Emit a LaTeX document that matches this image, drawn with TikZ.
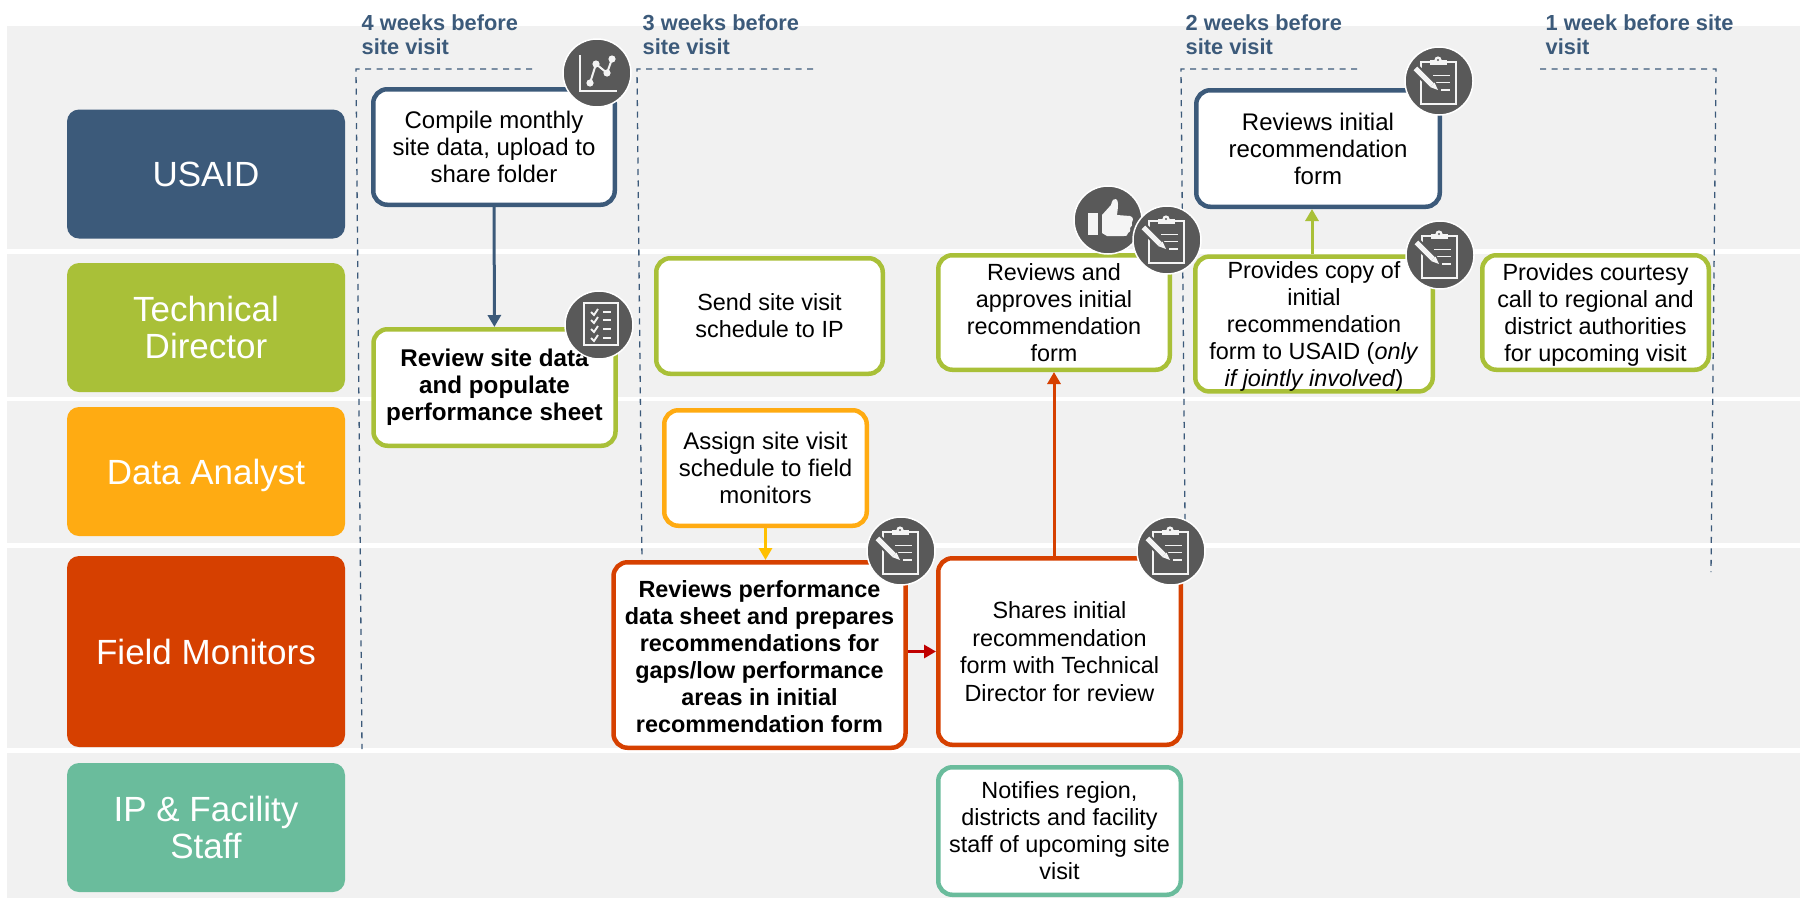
\documentclass[tikz,border=0pt]{standalone}
\usepackage{fontspec}
\setmainfont{Liberation Sans}
\usetikzlibrary{arrows.meta,calc}
\definecolor{cblue}{HTML}{3C5A7A}
\definecolor{cgreen}{HTML}{A9C038}
\definecolor{corange}{HTML}{FFAB12}
\definecolor{cred}{HTML}{D64000}
\definecolor{cteal}{HTML}{6ABC9C}
\definecolor{cband}{HTML}{F1F1F1}
\definecolor{cicon}{HTML}{595959}
\definecolor{cglyph}{HTML}{F4F4F4}
\definecolor{cyell}{HTML}{FFC000}
\definecolor{cdeep}{HTML}{C00000}
\newcommand{\toptall}[1]{\rule{0pt}{#1pt}}
\tikzset{
  lane/.style={fill=#1,rounded corners=12pt,text=white,align=center,inner sep=0pt,minimum width=278pt,
     font=\fontsize{35}{37.5}\selectfont},
  taskbox/.style={draw=#1,line width=4.5pt,fill=white,rounded corners=14pt,align=center,inner sep=0pt,
     font=\fontsize{23.4}{27}\selectfont},
  bigtext/.style={font=\fontsize{24}{27}\selectfont},
  opentext/.style={font=\fontsize{23.4}{27.7}\selectfont},
  bold/.style={font=\fontsize{23.4}{27}\selectfont\bfseries},
  bigbold/.style={font=\fontsize{24.2}{27}\selectfont\bfseries},
  period/.style={text=cblue,anchor=north west,align=left,inner sep=0pt,font=\fontsize{21.8}{24}\selectfont\bfseries},
  limit/.style={draw=cblue,line width=1.3pt,dash pattern=on 6pt off 5.5pt},
  link/.style={line width=3pt,-{Triangle[width=13pt,length=12pt]}},
  badge/.style={circle,fill=cicon,draw=white,line width=1.5pt,minimum size=68pt,inner sep=0pt},
  gl/.style={draw=cglyph,line width=2.4pt},
}
\newcommand{\clipicon}[3]{%
  \node[badge] (#1) at (#2,#3) {};
  \begin{scope}[shift={(#2,#3)}]
    \draw[gl,line width=1.9pt] (-18,-19) rectangle (17,23);
    \fill[cglyph] (-9,-21) rectangle (8,-16);
    \fill[cglyph] (-1,-21) circle (3.6);
    \fill[cicon] (-1,-21) circle (1.2);
    \draw[gl,line width=1.7pt] (-6,-5.5) -- (11,-5.5) (-6,1.5) -- (11,1.5) (2,9) -- (11,9);
    \draw[cicon,line width=9.5pt] (-25,-14) -- (-6,5);
    \draw[cglyph,line width=5pt] (-24,-13) -- (-7,4);
    \fill[cglyph] (-9,6) -- (-4.5,1.5) -- (-1,9) -- cycle;
    \draw[cicon,line width=1pt] (-21,-16) -- (-26,-11);
  \end{scope}}
\newcommand{\charticon}[3]{%
  \node[badge] (#1) at (#2,#3) {};
  \begin{scope}[shift={(#2,#3)}]
    \draw[gl,line width=2.2pt] (-17,-18) -- (-17,18) -- (20,18);
    \draw[gl,line width=2pt] (-7,10) -- (-1,-9) -- (10,0) -- (15,-14);
    \foreach \p in {(-7,10),(-1,-9),(10,0),(15,-14)} \fill[cglyph] \p circle (3.6);
  \end{scope}}
\newcommand{\listicon}[3]{%
  \node[badge] (#1) at (#2,#3) {};
  \begin{scope}[shift={(#2,#3)}]
    \draw[gl,line width=2.4pt] (-15,-22) rectangle (19,20);
    \foreach \yy in {-13,-5,4,13} {
      \draw[gl,line width=1.9pt] (-8,\yy) -- (-5,{\yy+3}) -- (-1,{\yy-3});
      \draw[gl,line width=1.9pt] (4,\yy) -- (12,\yy);
    }
  \end{scope}}
\newcommand{\thumbicon}[3]{%
  \node[badge] (#1) at (#2,#3) {};
  \begin{scope}[shift={(#2,#3)}]
    \fill[cglyph] (-20,-7) rectangle (-10,15);
    \fill[cglyph] (-6,-5) -- (3,-15) .. controls (4,-20) and (6,-22) .. (8,-21)
      .. controls (11,-20) and (10,-12) .. (9,-5) -- (22,-4) .. controls (26,-3) and (25,1) .. (24,2)
      .. controls (25,5) and (23,7) .. (22,8) .. controls (23,11) and (21,13) .. (20,13)
      .. controls (20,16) and (18,16) .. (16,16) -- (-1,16) -- (-6,13) -- cycle;
  \end{scope}}
\begin{document}
\begin{tikzpicture}[x=1pt,y=-1pt]
\useasboundingbox (0,0) rectangle (1800,898);
% bands
\fill[cband] (7,26) rectangle (1800,249);
\fill[cband] (7,254) rectangle (1800,397);
\fill[cband] (7,401) rectangle (1800,543);
\fill[cband] (7,548) rectangle (1800,748);
\fill[cband] (7,753) rectangle (1800,898);
% lanes
\node[lane=cblue,minimum height=129pt] (usaid) at (206,174) {USAID};
\node[lane=cgreen,minimum height=129pt] (tech) at (206,327.5) {Technical\\Director};
\node[lane=corange,minimum height=129pt] (data) at (206,471.5) {\toptall{33}Data Analyst};
\node[lane=cred,minimum height=191pt] (field) at (206,651.5) {Field Monitors};
\node[lane=cteal,minimum height=129pt] (ip) at (206,827.5) {IP \& Facility\\Staff};
% period markers
\coordinate (a0) at (532,69); \coordinate (a1) at (356,69); \coordinate (a2) at (362,749);
\coordinate (b0) at (813,69); \coordinate (b1) at (637,69); \coordinate (b2) at (642,561);
\coordinate (c0) at (1357,69); \coordinate (c1) at (1181,69); \coordinate (c2) at (1185,520);
\coordinate (d0) at (1540,69); \coordinate (d1) at (1716,69); \coordinate (d2) at (1711,572);
\draw[limit] (a0) -- (a1) -- (a2);
\draw[limit] (b0) -- (b1) -- (b2);
\draw[limit] (c0) -- (c1) -- (c2);
\draw[limit] (d0) -- (d1) -- (d2);
\node[period] (p4) at (361.5,14) {4 weeks before\\site visit};
\node[period] (p3) at (642.5,14) {3 weeks before\\site visit};
\node[period] (p2) at (1185.5,14) {2 weeks before\\site visit};
\node[period] (p1) at (1545.5,14) {1 week before site\\visit};
% task boxes
\node[taskbox=cblue,bigtext,minimum width=241.5pt,minimum height=115.5pt] (compile) at (494,147) {Compile monthly\\site data, upload to\\share folder};
\node[taskbox=cgreen,bigbold,minimum width=242pt,minimum height=116.5pt] (review) at (494.5,387.5) {Review site data\\and populate\\performance sheet};
\node[taskbox=cgreen,minimum width=226.5pt,minimum height=115.5pt] (send) at (769.5,316) {Send site visit\\schedule to IP};
\node[taskbox=corange,bigtext,minimum width=202.5pt,minimum height=115.5pt] (assign) at (765.5,468) {Assign site visit\\schedule to field\\monitors};
\node[taskbox=cred,bold,minimum width=292pt,minimum height=185.5pt] (perf) at (759.5,655) {\toptall{21}Reviews performance\\data sheet and prepares\\recommendations for\\gaps/low performance\\areas in initial\\recommendation form};
\node[taskbox=cred,opentext,minimum width=242.5pt,minimum height=186.5pt] (shares) at (1059.5,651.5) {Shares initial\\recommendation\\form with Technical\\Director for review};
\node[taskbox=cteal,minimum width=242.5pt,minimum height=127.5pt] (notify) at (1059.5,831) {Notifies region,\\districts and facility\\staff of upcoming site\\visit};
\node[taskbox=cgreen,minimum width=231.5pt,minimum height=114.5pt] (approve) at (1054,312.5) {Reviews and\\approves initial\\recommendation\\form};
\node[taskbox=cblue,bigtext,minimum width=243.5pt,minimum height=116.5pt] (initial) at (1318,148.5) {Reviews initial\\recommendation\\form};
\node[taskbox=cgreen,minimum width=237.5pt,minimum height=133.5pt] (copy) at (1314,324) {\toptall{22}Provides copy of\\initial\\recommendation\\form to USAID (\textit{only}\\\textit{if jointly involved})};
\node[taskbox=cgreen,minimum width=226.5pt,minimum height=114.5pt] (call) at (1595.5,312.5) {\toptall{21}Provides courtesy\\call to regional and\\district authorities\\for upcoming visit};
% connectors
\draw[link,cblue] (compile) -- (review);
\draw[link,cyell] (assign.south) -- (assign.south |- perf.north);
\draw[link,cdeep] (perf.east |- shares.west) -- (shares.west);
\draw[link,cred] ([yshift=-4pt]approve.south |- shares.north) -- (approve.south);
\draw[link,cgreen] ([xshift=-2pt]copy.north) -- ([xshift=-2pt]copy.north |- initial.south);
% badges
\charticon{ichart}{597}{73}
\clipicon{iinitial}{1439}{81}
\thumbicon{ithumb}{1108}{220}
\clipicon{iapprove}{1167}{240}
\clipicon{icopy}{1440}{255}
\listicon{ilist}{599}{325}
\clipicon{iperf}{901}{551}
\clipicon{ishares}{1171}{551}
\end{tikzpicture}
\end{document}
